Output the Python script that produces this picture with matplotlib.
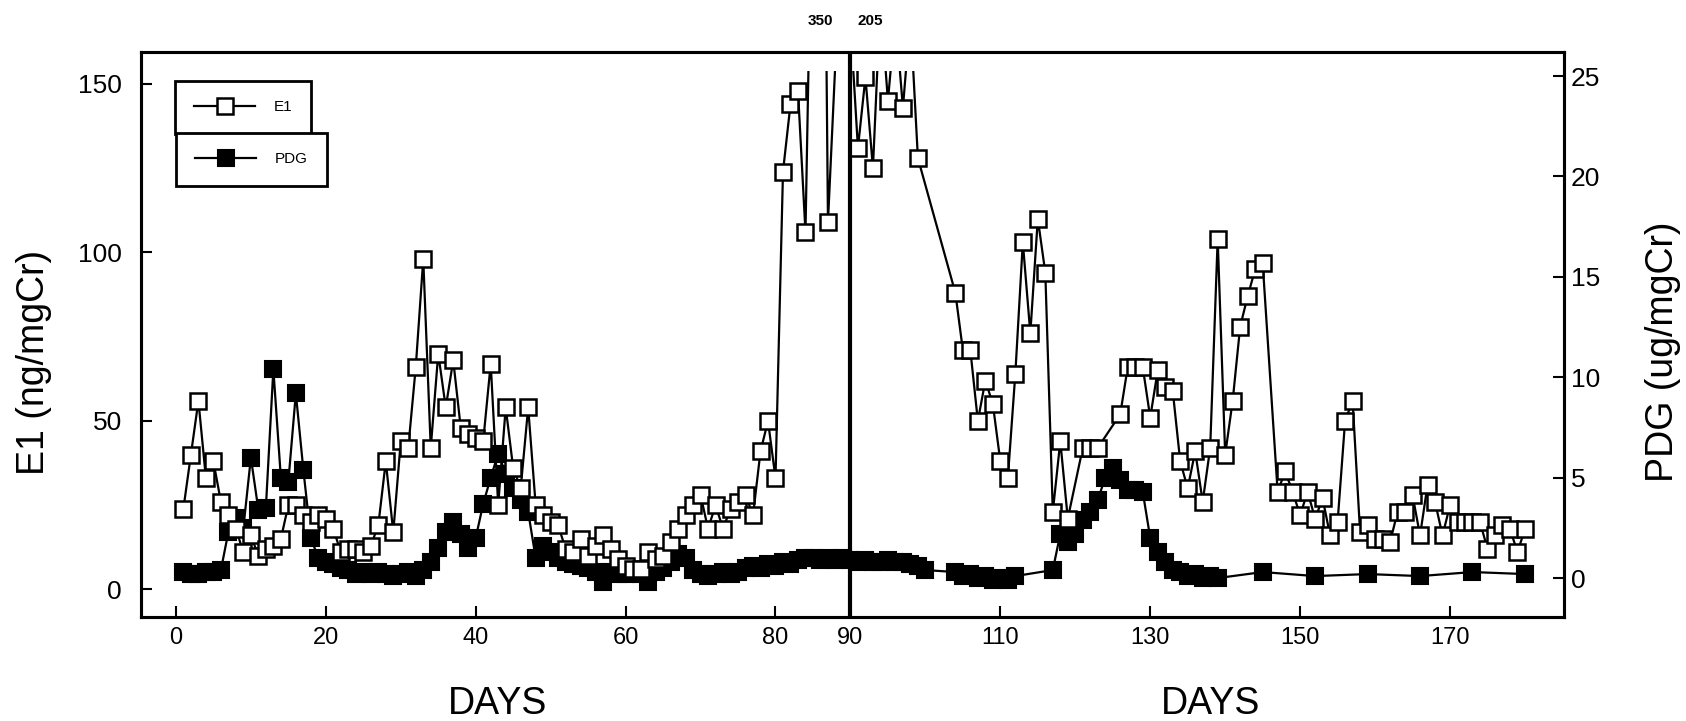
import matplotlib

matplotlib.use("Agg")
import matplotlib.pyplot as plt
import matplotlib.transforms as mtransforms
from matplotlib.patches import Rectangle

plt.rcParams["font.family"] = ["Liberation Sans", "DejaVu Sans"]

# E1 (ng/mgCr) per day; 350 and 205 run far off the top and get clipped
e1_day = [1, 2, 3, 4, 5, 6, 7, 8, 9, 10, 11, 12, 13, 14, 15, 16, 17, 18, 19, 20,
          21, 22, 23, 24, 25, 26, 27, 28, 29, 30, 31, 32, 33, 34, 35, 36, 37, 38,
          39, 40, 41, 42, 43, 44, 45, 46, 47, 48, 49, 50, 51, 52, 53, 54, 55, 56,
          57, 58, 59, 60, 61, 62, 63, 64, 65, 66, 67, 68, 69, 70, 71, 72, 73, 74,
          75, 76, 77, 78, 79, 80, 81, 82, 83, 84, 86, 87, 89, 91, 92, 93, 94, 95,
          96, 97, 98, 99, 104, 105, 106, 107, 108, 109, 110, 111, 112, 113, 114,
          115, 116, 117, 118, 119, 121, 122, 123, 126, 127, 128, 129, 130, 131,
          132, 133, 134, 135, 136, 137, 138, 139, 140, 141, 142, 143, 144, 145,
          147, 148, 149, 150, 151, 152, 153, 154, 155, 156, 157, 158, 159, 160,
          161, 162, 163, 164, 165, 166, 167, 168, 169, 170, 171, 172, 173, 174,
          175, 176, 177, 178, 179, 180]
e1_val = [24, 40, 56, 33, 38, 26, 22, 18, 11, 16, 10, 12, 13, 15, 25, 25, 22, 20, 22, 21,
          18, 11, 12, 12, 11, 13, 19, 38, 17, 44, 42, 66, 98, 42, 70, 54, 68, 48,
          46, 45, 44, 67, 25, 54, 36, 30, 54, 25, 22, 20, 19, 12, 11, 15, 10, 13,
          16, 12, 9, 7, 6, 6, 11, 9, 10, 14, 18, 22, 25, 28, 18, 25, 18, 24,
          26, 28, 22, 41, 50, 33, 124, 144, 148, 106, 350, 109, 205, 131, 152, 125, 175, 145,
          170, 143, 170, 128, 88, 71, 71, 50, 62, 55, 38, 33, 64, 103, 76,
          110, 94, 23, 44, 21, 42, 42, 42, 52, 66, 66, 66, 51, 65,
          60, 59, 38, 30, 41, 26, 42, 104, 40, 56, 78, 87, 95, 97,
          29, 35, 29, 22, 29, 21, 27, 16, 20, 50, 56, 17, 19, 15,
          15, 14, 23, 23, 28, 16, 31, 26, 16, 25, 20, 20, 20, 20,
          12, 16, 19, 18, 11, 18]

# PDG (ug/mgCr) per day; weekly after day 139
pdg_day = [1, 2, 3, 4, 5, 6, 7, 8, 9, 10, 11, 12, 13, 14, 15, 16, 17, 18, 19, 20,
           21, 22, 23, 24, 25, 26, 27, 28, 29, 30, 31, 32, 33, 34, 35, 36, 37, 38,
           39, 40, 41, 42, 43, 44, 45, 46, 47, 48, 49, 50, 51, 52, 53, 54, 55, 56,
           57, 58, 59, 60, 61, 62, 63, 64, 65, 66, 67, 68, 69, 70, 71, 72, 73, 74,
           75, 76, 77, 78, 79, 80, 81, 82, 83, 84, 85, 86, 87, 88, 89, 90, 91, 92,
           93, 94, 95, 96, 97, 98, 99, 100, 104, 105, 106, 107, 108, 109, 110, 111,
           112, 117, 118, 119, 120, 121, 122, 123, 124, 125, 126, 127, 128, 129,
           130, 131, 132, 133, 134, 135, 136, 137, 138, 139, 145, 152, 159, 166,
           173, 180]
pdg_val = [0.3, 0.2, 0.2, 0.3, 0.3, 0.4, 2.3, 3.0, 2.5, 6.0, 3.4, 3.5, 10.4, 5.0, 4.8, 9.2,
           5.4, 2.0, 1.0, 0.8, 0.7, 0.5, 0.4, 0.2, 0.3, 0.2, 0.3, 0.2, 0.1, 0.2, 0.3, 0.1,
           0.4, 0.8, 1.5, 2.3, 2.8, 2.2, 1.5, 2.0, 3.7, 5.0, 6.2, 5.2, 4.5, 3.9, 3.3, 1.0,
           1.6, 1.3, 1.0, 0.8, 0.7, 0.6, 0.5, 0.3, -0.2, 0.3, 0.2, 0.2, 0.3, 0.2, -0.2, 0.3,
           0.5, 0.8, 1.2, 1.0, 0.4, 0.2, 0.1, 0.2, 0.3, 0.2, 0.3, 0.5, 0.6, 0.5, 0.7, 0.6,
           0.8, 0.7, 0.9, 1.0, 1.0, 0.9, 1.0, 0.9, 1.0, 0.9, 0.8, 0.9, 0.8, 0.8, 0.9, 0.8,
           0.8, 0.7, 0.6, 0.4, 0.3, 0.1, 0.2, 0.0, 0.1, -0.1, 0.0, -0.1, 0.1, 0.4, 2.2, 1.8,
           2.2, 2.9, 3.3, 3.9, 5.0, 5.5, 4.9, 4.4, 4.4, 4.3, 2.0, 1.3, 0.8, 0.4, 0.3, 0.1,
           0.2, 0.0, 0.1, 0.0, 0.3, 0.1, 0.2, 0.1, 0.3, 0.2]

x_ticks = [0, 20, 40, 60, 80, 90, 110, 130, 150, 170]
e1_ticks = [0, 50, 100, 150]
pdg_ticks = [0, 5, 10, 15, 20, 25]
break_day = 90
offscale = [("350", 86), ("205", 92.6)]

fig = plt.figure(figsize=(16.86, 7.21), dpi=100)
ax = fig.add_axes([0.0839, 0.1442, 0.8437, 0.7837])
ax2 = ax.twinx()

ax.set_xlim(-4.6, 185.2)
ax.set_ylim(-8.2, 159.5)
ax2.set_ylim(-1.94, 26.2)

pdg_line, = ax2.plot(pdg_day, pdg_val, "-s", color="k", mfc="k", mec="k",
                     ms=11, mew=1.5, lw=1.6)
e1_line, = ax.plot(e1_day, e1_val, "-s", color="k", mfc="white", mec="k",
                   ms=11, mew=1.8, lw=1.6)
# the original plotter stops the E1 trace a little below the frame top
clip = Rectangle((-10, -20), 210, 174, transform=ax.transData)
e1_line.set_clip_path(clip)

ax.axvline(break_day, color="k", lw=3)

ax.set_zorder(ax2.get_zorder() + 1)
ax.patch.set_visible(False)

ax.set_xticks(x_ticks)
ax.set_yticks(e1_ticks)
ax2.set_yticks(pdg_ticks)
ax.tick_params(axis="x", direction="in", length=8, width=1.5, labelsize=17, pad=7)
ax.tick_params(axis="y", direction="in", length=8, width=1.5, labelsize=19, pad=14)
ax2.tick_params(axis="y", direction="in", length=8, width=1.5, labelsize=19, pad=5)
for a in (ax, ax2):
    for s in a.spines.values():
        s.set_linewidth(2.2)

ax.set_ylabel("E1 (ng/mgCr)", fontsize=27)
ax.yaxis.set_label_coords(-0.063, 0.45)
ax2.set_ylabel("PDG (ug/mgCr)", fontsize=27)
ax2.yaxis.set_label_coords(1.057, 0.469)

fig.text(0.295, 0.024, "DAYS", ha="center", va="center", fontsize=27)
fig.text(0.718, 0.024, "DAYS", ha="center", va="center", fontsize=27)

top = mtransforms.blended_transform_factory(ax.transData, ax.transAxes)
for txt, d in offscale:
    ax.text(d, 1.055, txt, transform=top, ha="center", va="center",
            fontsize=11, fontweight="bold")

legend_kw = dict(loc="upper left", frameon=True, fancybox=False, edgecolor="k",
                 framealpha=1, fontsize=11, handlelength=4, borderaxespad=0,
                 borderpad=1.25, handletextpad=1.2)
leg1 = ax.legend([e1_line], ["E1"], bbox_to_anchor=(0.0236, 0.948), **legend_kw)
leg1.get_frame().set_linewidth(2)
ax.add_artist(leg1)
leg2 = ax.legend([pdg_line], ["PDG"], bbox_to_anchor=(0.0243, 0.856), **legend_kw)
leg2.get_frame().set_linewidth(2)

fig.savefig("out.png", dpi=100)
